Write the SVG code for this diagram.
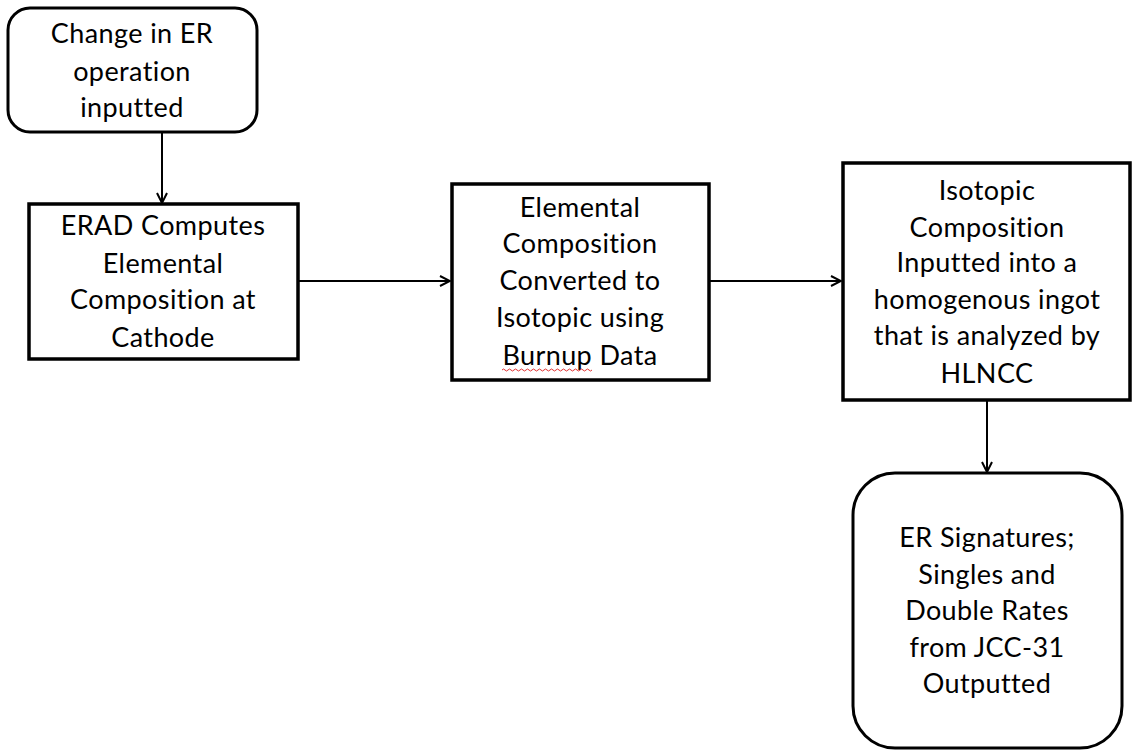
<svg xmlns="http://www.w3.org/2000/svg" width="1133" height="750" viewBox="0 0 1133 750">
<style>
.box{fill:#fff;stroke:#000;stroke-width:3.5}
.rbox{fill:#fff;stroke:#000;stroke-width:3}
.t{font-family:Lato,"Liberation Sans",sans-serif;font-size:27px;letter-spacing:0.4px;fill:#000;text-anchor:middle}
.c{stroke:#000;stroke-width:2;fill:none}
</style>
<defs>
<marker id="ah" viewBox="0 0 12 12" refX="11" refY="6" markerWidth="12" markerHeight="12" markerUnits="userSpaceOnUse" orient="auto">
<path d="M1,1 L11,6 L1,11" fill="none" stroke="#000" stroke-width="2"/>
</marker>
</defs>
<rect width="1133" height="750" fill="#fff"/>
<g id="connectors">
<line class="c" x1="162" y1="132" x2="162" y2="203" marker-end="url(#ah)"/>
<line class="c" x1="298" y1="281" x2="450" y2="281" marker-end="url(#ah)"/>
<line class="c" x1="709" y1="281" x2="841" y2="281" marker-end="url(#ah)"/>
<line class="c" x1="987" y1="400" x2="987" y2="472" marker-end="url(#ah)"/>
</g>
<g id="n1">
<rect class="rbox" x="8" y="8" width="249" height="124" rx="22"/>
<text class="t" x="132" y="43">Change in ER</text>
<text class="t" x="132" y="81">operation</text>
<text class="t" x="132" y="117">inputted</text>
</g>
<g id="n2">
<rect class="box" x="29" y="204" width="269" height="155"/>
<text class="t" x="163" y="235">ERAD Computes</text>
<text class="t" x="163" y="273">Elemental</text>
<text class="t" x="163" y="309">Composition at</text>
<text class="t" x="163" y="347">Cathode</text>
</g>
<g id="n3">
<rect class="box" x="452" y="184" width="257" height="196"/>
<text class="t" x="580" y="217">Elemental</text>
<text class="t" x="580" y="253">Composition</text>
<text class="t" x="580" y="290">Converted to</text>
<text class="t" x="580" y="327">Isotopic using</text>
<text class="t" x="580" y="365">Burnup Data</text>
<path d="M502,370 q1.5,-2 3,0 t3,0 t3,0 t3,0 t3,0 t3,0 t3,0 t3,0 t3,0 t3,0 t3,0 t3,0 t3,0 t3,0 t3,0 t3,0 t3,0 t3,0 t3,0 t3,0 t3,0 t3,0 t3,0 t3,0 t3,0 t3,0 t3,0 t3,0 t3,0 t3,0" fill="none" stroke="#e03030" stroke-width="1"/>
</g>
<g id="n4">
<rect class="box" x="843" y="163" width="287" height="237"/>
<text class="t" x="987" y="200">Isotopic</text>
<text class="t" x="987" y="237">Composition</text>
<text class="t" x="987" y="272">Inputted into a</text>
<text class="t" x="987" y="309">homogenous ingot</text>
<text class="t" x="987" y="345">that is analyzed by</text>
<text class="t" x="987" y="383">HLNCC</text>
</g>
<g id="n5">
<rect class="rbox" x="853" y="473" width="269" height="275" rx="42"/>
<text class="t" x="987" y="547">ER Signatures;</text>
<text class="t" x="987" y="584">Singles and</text>
<text class="t" x="987" y="620">Double Rates</text>
<text class="t" x="987" y="657">from JCC-31</text>
<text class="t" x="987" y="693">Outputted</text>
</g>
</svg>
